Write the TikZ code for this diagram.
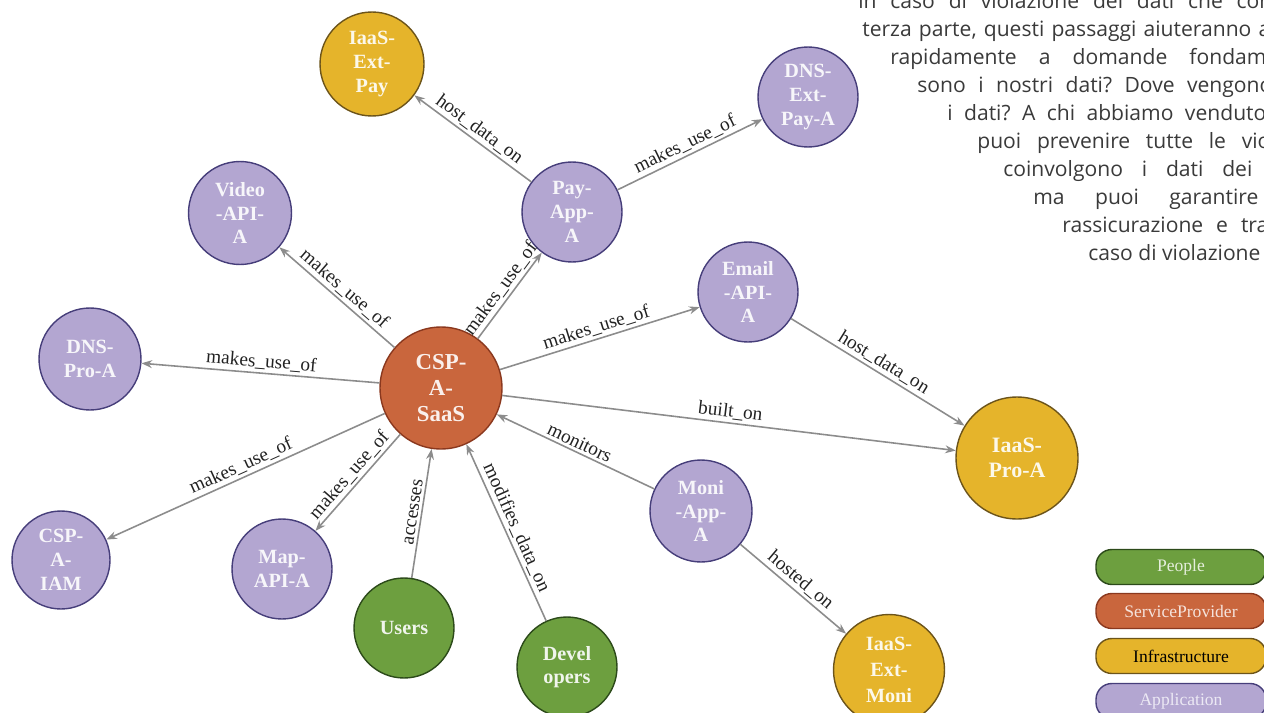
\documentclass[tikz,border=0pt]{standalone}
\usepackage{fontspec}
\setmainfont{Liberation Serif}
\newfontfamily\parafont{Open Sans}
\usetikzlibrary{arrows.meta}
\definecolor{mpurple}{RGB}{179,166,209}
\definecolor{mpurpleline}{RGB}{70,62,122}
\definecolor{morange}{RGB}{201,102,61}
\definecolor{morangeline}{RGB}{138,56,30}
\definecolor{myellow}{RGB}{229,180,43}
\definecolor{myellowline}{RGB}{108,84,26}
\definecolor{mgreen}{RGB}{109,159,63}
\definecolor{mgreenline}{RGB}{44,74,26}
\definecolor{medge}{RGB}{140,140,140}
\definecolor{mlabel}{RGB}{34,34,34}
\definecolor{mtext}{RGB}{58,58,58}

\begin{document}
\begin{tikzpicture}[x=0.02cm,y=-0.02cm]
  \tikzset{kg node/.style={circle,draw=m#1line,fill=m#1,line width=0.8pt,text=white!90!m#1,align=center,inner sep=0pt,minimum size=2cm,font=\bfseries\fontsize{11.5}{13.5}\selectfont}}
  \tikzset{rel/.style={draw=medge,line width=0.9pt,-{Stealth[length=6pt,width=4.5pt]}}}
  \tikzset{rel label/.style={sloped,above,inner sep=1.5pt,text=mlabel,font=\fontsize{11}{13}\selectfont}}
  \tikzset{legend pill/.style={draw=m#1line,fill=m#1,rounded corners=9pt,minimum width=3.4cm,minimum height=0.7cm,line width=0.8pt,font=\fontsize{10}{12}\selectfont}}
  \tikzset{para/.style={anchor=base west,inner sep=0pt,text=mtext,font=\parafont\fontsize{12}{14}\selectfont\frenchspacing}}

  \useasboundingbox (0,0) rectangle (1264,713);
  \clip (0,0) rectangle (1264,713);

  % justified text beside the graph, cut at the right edge
  \foreach \x/\y/\e/\w [count=\i, evaluate=\i as \tw using (\e-\x)*0.02] in {
      858/9/1272/{in caso di violazione dei dati che con},
      862/36.9/1270/{terza parte, questi passaggi aiuteranno a},
      890/64.8/1278/{rapidamente a domande fondame},
      917/92.7/1272/{sono i nostri dati? Dove vengono},
      947/120.6/1266/{i dati? A chi abbiamo venduto},
      977/148.5/1270/{puoi prevenire tutte le vio},
      1003/176.4/1252/{coinvolgono i dati dei},
      1033/204.3/1258/{ma puoi garantire},
      1062/232.2/1268/{rassicurazione e tra}}
    \node[para] (w\i) at (\x,\y) {\makebox[\tw cm][s]{\w}};
  \node[para] (w10) at (1088,260.1) {caso di violazione};

  \node[kg node=orange, minimum size=2.44cm, font=\bfseries\fontsize{13}{15}\selectfont] (saas) at (441,388) {CSP-\\A-\\SaaS}; % centre
  \node[kg node=yellow, minimum size=2.08cm] (extpay) at (372,64) {IaaS-\\Ext-\\Pay};
  \node[kg node=purple] (dnsextpay) at (808,97) {DNS-\\Ext-\\Pay-A};
  \node[kg node=purple] (payapp) at (572,212) {Pay-\\App-\\A};
  \node[kg node=purple, minimum size=2.06cm] (video) at (240,213) {Video\\-API-\\A};
  \node[kg node=purple] (email) at (748,292) {Email\\-API-\\A};
  \node[kg node=purple, minimum size=2.04cm] (dnspro) at (90,359) {DNS-\\Pro-A};
  \node[kg node=purple, minimum size=1.96cm] (iam) at (61,560) {CSP-\\A-\\IAM};
  \node[kg node=purple] (map) at (282,569) {Map-\\API-A};
  \node[kg node=green] (users) at (404,628) {Users};
  \node[kg node=green] (devs) at (567,667) {Devel\\opers};
  \node[kg node=purple, minimum size=2.04cm] (moni) at (701,511) {Moni\\-App-\\A};
  \node[kg node=yellow, minimum size=2.44cm, font=\bfseries\fontsize{12.5}{14.5}\selectfont] (iaaspro) at (1017,458) {IaaS-\\Pro-A};
  \node[kg node=yellow, minimum size=2.22cm, font=\bfseries\fontsize{11.5}{15}\selectfont] (extmoni) at (889,670) {IaaS-\\Ext-\\Moni};

  \draw[rel] (payapp) -- node[rel label] {host\_data\_on} (extpay);
  \draw[rel] (payapp) -- node[rel label] {makes\_use\_of} (dnsextpay);
  \draw[rel] (saas) -- node[rel label] {makes\_use\_of} (payapp);
  \draw[rel] (saas) -- node[rel label] {makes\_use\_of} (video);
  \draw[rel] (saas) -- node[rel label] {makes\_use\_of} (dnspro);
  \draw[rel] (saas) -- node[rel label] {makes\_use\_of} (iam);
  \draw[rel] (saas) -- node[rel label] {makes\_use\_of} (map);
  \draw[rel] (saas) -- node[rel label] {makes\_use\_of} (email);
  \draw[rel] (email) -- node[rel label] {host\_data\_on} (iaaspro);
  \draw[rel] (saas) -- node[rel label] {built\_on} (iaaspro);
  \draw[rel] (moni) -- node[rel label] {monitors} (saas);
  \draw[rel] (users) -- node[rel label] {accesses} (saas);
  \draw[rel] (devs) -- node[rel label] {modifies\_data\_on} (saas);
  \draw[rel] (moni) -- node[rel label] {hosted\_on} (extmoni);

  % legend
  \node[legend pill=green, text=white!82!mgreen] (lgpeople) at (1181,567) {People};
  \node[legend pill=orange, text=white!82!morange] (lgprovider) at (1181,611) {ServiceProvider};
  \node[legend pill=yellow, text=black] (lginfra) at (1181,656) {Infrastructure};
  \node[legend pill=purple, text=white!75!mpurple] (lgapp) at (1181,701) {Application};
\end{tikzpicture}
\end{document}
